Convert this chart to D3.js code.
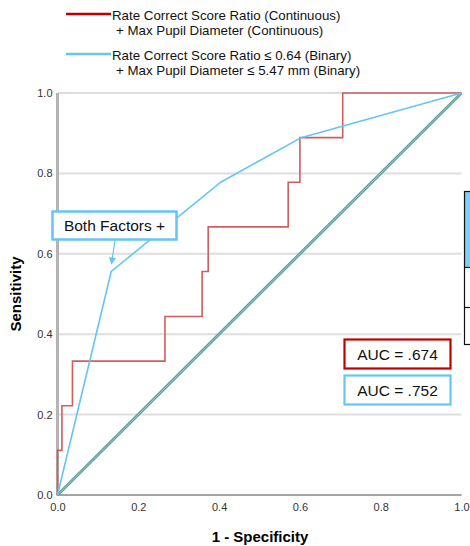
<!DOCTYPE html>
<html>
<head>
<meta charset="utf-8">
<script src="https://cdn.jsdelivr.net/npm/d3@7"></script>
<style>
  body { margin: 0; background: #fff; }
  svg { display: block; font-family: "Liberation Sans", Arial, sans-serif; }
</style>
</head>
<body>
<svg id="chart" width="470" height="546"></svg>
<script>
// ROC vertices (1 - specificity, sensitivity)
const contFpr = [0, 0, 0.011, 0.037, 0.266, 0.358, 0.373, 0.571, 0.6, 0.706, 1];
const contTpr = [0, 0.111, 0.222, 0.333, 0.444, 0.556, 0.667, 0.778, 0.889, 1, 1];
const binFpr = [0, 0.133, 0.404, 0.603, 1];
const binTpr = [0, 0.556, 0.778, 0.889, 1];
const refLine = [0, 1];
const ticks = [0, 0.2, 0.4, 0.6, 0.8, 1.0];
const aucLabels = ["AUC = .674", "AUC = .752"];
const legendLabels = [
  ["Rate Correct Score Ratio (Continuous)", "+ Max Pupil Diameter (Continuous)"],
  ["Rate Correct Score Ratio \u2264 0.64 (Binary)", "+ Max Pupil Diameter \u2264 5.47 mm (Binary)"]
];

const RED = "#c00000", RED_LINE = "#cf5e5e", BLUE = "#66c5f4";

const svg = d3.select("#chart");
const x = d3.scaleLinear().domain([0, 1]).range([57.5, 461.5]);
const y = d3.scaleLinear().domain([0, 1]).range([495, 93]);

//Gridlines
svg.append("g")
  .selectAll("line")
  .data(ticks.slice(1))
  .join("line")
    .attr("x1", x(0)).attr("x2", x(1))
    .attr("y1", d => y(d)).attr("y2", d => y(d))
    .attr("stroke", "#dedede")
    .attr("stroke-width", 2);

//Axes
const yAxis = svg.append("g")
  .attr("transform", `translate(${x(0) - 4},0)`)
  .call(d3.axisLeft(y).tickValues(ticks).tickFormat(d3.format(".1f")).tickSize(0).tickPadding(1));
const xAxis = svg.append("g")
  .attr("transform", `translate(0,${y(0) + 4})`)
  .call(d3.axisBottom(x).tickValues(ticks).tickFormat(d3.format(".1f")).tickSize(0).tickPadding(4));
[yAxis, xAxis].forEach(a => {
  a.select(".domain").remove();
  a.selectAll("text").attr("font-size", 11).attr("fill", "#333")
    .attr("font-family", "Liberation Sans, Arial, sans-serif");
});

svg.append("line")
  .attr("x1", x(0)).attr("x2", x(0)).attr("y1", y(1)).attr("y2", y(0))
  .attr("stroke", "#b4b4b4").attr("stroke-width", 3);
svg.append("line")
  .attr("x1", x(0) - 1).attr("x2", x(1)).attr("y1", y(0)).attr("y2", y(0))
  .attr("stroke", "#a4a4a4").attr("stroke-width", 2);

//Reference diagonal (double teal line)
const diag = d3.line().x(d => x(d)).y(d => y(d));
svg.append("path").attr("d", diag(refLine))
  .attr("fill", "none").attr("stroke", "#5c9d97").attr("stroke-width", 3);
svg.append("path").attr("d", diag(refLine))
  .attr("fill", "none").attr("stroke", "#b4d8d4").attr("stroke-width", 0.8);

//ROC curves
svg.append("path")
  .attr("d", d3.line().curve(d3.curveStepAfter)
    .x((d, i) => x(contFpr[i])).y(d => y(d))(contTpr))
  .attr("fill", "none").attr("stroke", RED_LINE).attr("stroke-width", 1.6);
svg.append("path")
  .attr("d", d3.line().x((d, i) => x(binFpr[i])).y(d => y(d))(binTpr))
  .attr("fill", "none").attr("stroke", BLUE).attr("stroke-width", 1.6);

//Axis titles
svg.append("text")
  .attr("x", 260).attr("y", 542)
  .attr("text-anchor", "middle").attr("font-size", 15).attr("font-weight", "bold")
  .text("1 - Specificity");
svg.append("text")
  .attr("transform", "translate(21,294) rotate(-90)")
  .attr("text-anchor", "middle").attr("font-size", 15).attr("font-weight", "bold")
  .text("Sensitivity");

//Legend
const legend = svg.append("g");
[RED, BLUE].forEach((c, i) => {
  const ly = 14 + i * 40;
  legend.append("line")
    .attr("x1", 66).attr("x2", 111).attr("y1", ly).attr("y2", ly)
    .attr("stroke", c).attr("stroke-width", 2.5);
  legend.append("text").attr("x", 112).attr("y", ly + 5.5)
    .attr("font-size", 13.3).attr("fill", "#111").text(legendLabels[i][0]);
  legend.append("text").attr("x", 116).attr("y", ly + 21)
    .attr("font-size", 13.3).attr("fill", "#111").text(legendLabels[i][1]);
});

//Annotation "Both Factors +"
svg.append("defs").append("marker")
  .attr("id", "arrow").attr("viewBox", "0 0 10 10")
  .attr("refX", 9).attr("refY", 5)
  .attr("markerWidth", 6).attr("markerHeight", 6)
  .attr("orient", "auto")
  .append("path").attr("d", "M0,0 L10,5 L0,10 z").attr("fill", BLUE);
svg.append("line")
  .attr("x1", 115).attr("y1", 240).attr("x2", 111.5).attr("y2", 264)
  .attr("stroke", BLUE).attr("stroke-width", 1.2)
  .attr("marker-end", "url(#arrow)");
svg.append("rect")
  .attr("x", 52.5).attr("y", 211.5).attr("width", 124).attr("height", 28)
  .attr("fill", "#fff").attr("stroke", BLUE).attr("stroke-width", 2.5);
svg.append("text")
  .attr("x", 114.5).attr("y", 231).attr("text-anchor", "middle")
  .attr("font-size", 15.5).attr("fill", "#111").text("Both Factors +");

//AUC boxes
[RED, BLUE].forEach((c, i) => {
  const by = 339.5 + i * 36;
  svg.append("rect")
    .attr("x", 344.5).attr("y", by).attr("width", 106).attr("height", 29)
    .attr("fill", "#fff").attr("stroke", c).attr("stroke-width", 2.2);
  svg.append("text")
    .attr("x", 397.5).attr("y", by + 20.5).attr("text-anchor", "middle")
    .attr("font-size", 15.5).attr("fill", "#111").text(aucLabels[i]);
});

//Clipped table at the right edge
svg.append("rect")
  .attr("x", 464.5).attr("y", 191.5).attr("width", 20).attr("height", 76)
  .attr("fill", "#7fcff4");
svg.append("rect")
  .attr("x", 464.5).attr("y", 191.5).attr("width", 20).attr("height", 153)
  .attr("fill", "none").attr("stroke", "#111").attr("stroke-width", 1.2);
[267.5, 307.5].forEach(ly => svg.append("line")
  .attr("x1", 464.5).attr("x2", 470).attr("y1", ly).attr("y2", ly)
  .attr("stroke", "#111").attr("stroke-width", 1.2));
</script>
</body>
</html>
